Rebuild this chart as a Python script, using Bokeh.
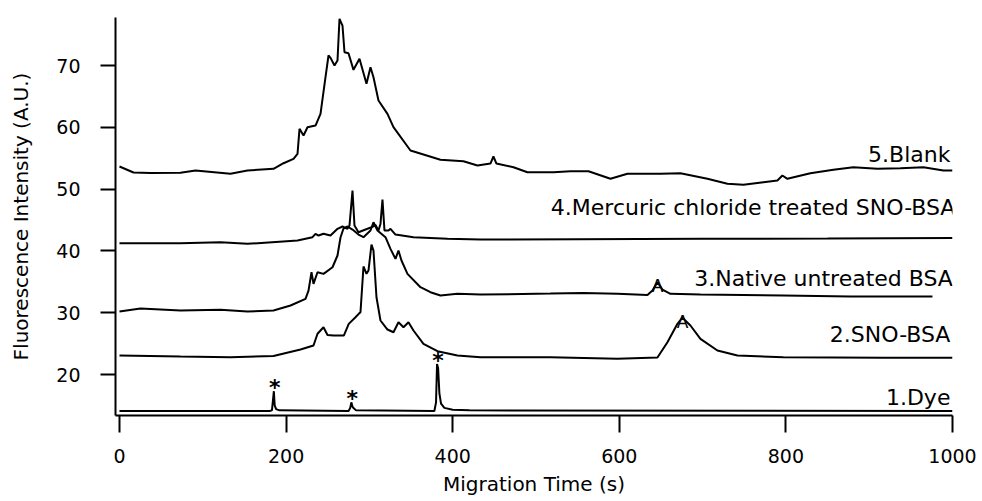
import numpy as np
from bokeh.plotting import figure
from bokeh.models import Range1d, FixedTicker, Label
from bokeh.embed import file_html
from bokeh.resources import INLINE
from bokeh.core.properties import value

# Electropherograms: migration time (s) and fluorescence intensity (A.U.)
dye_t = [0, 180, 183, 184.5, 185.3, 186.3, 188, 192, 275, 277, 278.3, 280, 284,
         378, 380, 381.2, 382.5, 384, 386, 390, 400, 420, 1000]
dye_i = [14.1, 14.1, 14.2, 16.2, 17.3, 15.0, 14.4, 14.2, 14.1, 14.6, 15.5, 14.7, 14.2,
         14.1, 15.5, 21.7, 21.0, 17.0, 15.3, 14.6, 14.3, 14.2, 14.1]

sno_t = [0, 73.2, 133.2, 184.9, 217.3, 232.9, 237.7, 244.9, 249.7, 256.9, 269.3, 275.2,
         283.3, 287.2, 289.3, 292.9, 296.5, 298.9, 302.5, 304.9, 308.5, 313.3, 321.7,
         328.9, 334.9, 340.9, 346.9, 352.9, 364.9, 381.7, 405.7, 433.3, 517.3, 597.8,
         645.8, 657.8, 669.8, 675.8, 685.4, 697.4, 717.8, 741.8, 797.0, 917.0, 1000]
sno_i = [23.07, 22.91, 22.80, 22.99, 24.05, 24.69, 26.59, 27.65, 26.39, 26.31, 26.31, 28.20,
         29.27, 29.82, 30.08, 37.48, 36.29, 36.83, 41.04, 40.06, 32.51, 28.74, 27.28,
         26.84, 28.46, 27.65, 28.46, 27.12, 24.97, 23.77, 23.07, 22.80, 22.80, 22.54,
         22.75, 25.23, 28.20, 29.20, 27.93, 25.78, 23.88, 23.07, 22.80, 22.70, 22.70]

native_t = [0, 25.2, 49.2, 73.2, 121.2, 153.6, 184.9, 205.3, 223.3, 226.9, 230.5, 232.9,
            237.7, 244.9, 255.7, 261.7, 265.3, 268.9, 273.7, 279.7, 286.9, 292.9, 301.3,
            304.9, 309.7, 319.3, 325.3, 331.3, 334.9, 338.5, 345.7, 361.3, 373.3, 385.3,
            405.7, 433.3, 517.3, 557.0, 597.8, 633.8, 639.8, 645.8, 651.8, 661.4, 697.4,
            797.0, 877.4, 975.9]
native_i = [30.19, 30.68, 30.52, 30.36, 30.47, 30.19, 30.36, 31.17, 32.25, 33.59, 36.55, 34.68,
            36.55, 36.29, 37.36, 39.26, 42.17, 43.62, 43.95, 43.46, 42.65, 42.22, 43.30,
            44.64, 43.30, 42.22, 40.34, 38.72, 40.06, 38.45, 36.29, 34.13, 33.32, 32.78,
            33.06, 32.94, 33.10, 33.20, 33.06, 32.86, 33.59, 34.95, 33.75, 33.06, 32.94,
            32.78, 32.62, 32.62]

hg_t = [0, 73.2, 121.2, 153.6, 213.7, 231.7, 235.3, 238.9, 244.9, 253.3, 261.7, 267.7,
        273.7, 276.1, 279.7, 282.1, 286.9, 297.7, 303.7, 307.3, 310.9, 313.3, 315.7,
        318.1, 322.9, 325.3, 331.3, 352.9, 393.7, 433.3, 550, 700, 850, 1000]
hg_i = [41.25, 41.25, 41.41, 41.15, 41.68, 42.22, 42.77, 42.49, 42.77, 42.49, 43.58, 43.95,
        43.58, 44.10, 49.77, 44.10, 43.03, 43.58, 43.90, 44.20, 43.30, 44.37, 48.30,
        43.30, 43.30, 43.58, 42.65, 42.22, 41.96, 41.84, 41.90, 41.95, 42.00, 42.10]

blank_t = [0, 16.8, 37.2, 73.2, 91.2, 133.2, 153.6, 184.9, 196.9, 208.9, 213.7, 216.1,
           220.9, 225.7, 235.3, 241.3, 247.3, 250.9, 253.5, 258.1, 261.7, 264.1, 267.7, 270.1,
           274.9, 280.9, 288.1, 296.5, 301.3, 304.9, 310.9, 321.7, 328.9, 349.3, 364.9,
           385.3, 412.9, 429.7, 445.3, 448.9, 452.5, 473.0, 489.7, 521.0, 541.4, 563.0,
           589.4, 609.8, 649.4, 673.4, 705.8, 729.8, 749.0, 773.0, 789.8, 795.8, 801.8,
           829.4, 857.0, 881.0, 909.8, 937.5, 965.1, 989.1, 1000]
blank_i = [53.66, 52.69, 52.60, 52.64, 53.01, 52.48, 53.01, 53.28, 54.19, 54.90, 55.71, 59.76,
           58.67, 60.02, 60.29, 62.18, 68.11, 71.62, 71.20, 70.00, 70.81, 77.56, 76.47, 72.15,
           71.99, 69.30, 71.08, 67.04, 69.72, 68.11, 64.34, 62.18, 60.02, 56.25, 55.60,
           54.74, 54.51, 53.82, 54.14, 55.28, 54.14, 53.54, 52.73, 52.73, 52.90, 52.90,
           51.67, 52.48, 52.48, 52.57, 51.67, 50.86, 50.70, 51.12, 51.39, 52.20, 51.67,
           52.57, 53.12, 53.54, 53.28, 53.38, 53.54, 53.01, 53.01]

trace_labels = ["1.Dye", "2.SNO-BSA", "3.Native untreated BSA",
                "4.Mercuric chloride treated SNO-BSA", "5.Blank"]
dye_marked_times = [185.3, 278.3, 381.2]      # peaks flagged with an asterisk
protein_peak_times = [675.8, 645.8]           # SNO-BSA and native BSA peaks marked "A"

x_ticks = [0, 200, 400, 600, 800, 1000]
y_ticks = [20, 30, 40, 50, 60, 70]

FONT = "DejaVu Sans"

p = figure(width=982, height=501, output_backend="svg", toolbar_location=None,
           x_range=Range1d(-4.8, 1000), y_range=Range1d(13.37, 77.77),
           min_border_left=115, min_border_right=30, min_border_top=17,
           min_border_bottom=86)
p.outline_line_color = None
p.xgrid.visible = False
p.ygrid.visible = False
p.background_fill_color = "white"
p.border_fill_color = "white"

for ax, ticks in ((p.xaxis[0], x_ticks), (p.yaxis[0], y_ticks)):
    ax.ticker = FixedTicker(ticks=ticks)
    ax.minor_tick_line_color = None
    ax.major_tick_in = 0
    ax.axis_line_width = 2
    ax.major_tick_line_width = 2
    ax.axis_line_color = "black"
    ax.major_tick_line_color = "black"
    ax.major_label_text_font = FONT
    ax.major_label_text_font_size = "19px"
    ax.major_label_text_color = "black"
    ax.axis_label_text_font = FONT
    ax.axis_label_text_font_size = "20px"
    ax.axis_label_text_font_style = "normal"
    ax.axis_label_text_color = "black"

p.xaxis.major_tick_out = 17
p.yaxis.major_tick_out = 15
p.xaxis.axis_label = "Migration Time (s)"
p.yaxis.axis_label = "Fluorescence Intensity (A.U.)"
p.xaxis.major_label_standoff = 16
p.xaxis.axis_label_standoff = 6
p.yaxis.major_label_standoff = 20
p.yaxis.axis_label_standoff = 20

series = [(dye_t, dye_i), (sno_t, sno_i), (native_t, native_i), (hg_t, hg_i), (blank_t, blank_i)]
for t, i in series:
    p.line(t, i, line_color="black", line_width=2)

# trace names, right-aligned at the end of each trace
label_pos = [(997.5, 14.98), (997.5, 25.23), (1000.5, 34.24), (1003.5, 45.73), (997.5, 54.30)]
for text, (lx, ly) in zip(trace_labels, label_pos):
    p.add_layout(Label(x=lx, y=ly, text=text, text_align="right",
                       text_baseline="alphabetic", y_offset=8, text_font=FONT,
                       text_font_size="22px", text_color="black"))

# asterisks above the dye peaks
star_y = [float(np.interp(t, dye_t, dye_i)) for t in dye_marked_times]
p.text(x=dye_marked_times, y=star_y, text=["*"] * len(dye_marked_times),
       text_align="center", text_baseline="alphabetic", y_offset=-4, x_offset=1,
       text_font=value(FONT), text_font_style="bold", text_font_size="22px",
       text_color="black")

# "A" markers on the late protein peaks
a_y = [float(np.interp(protein_peak_times[0], sno_t, sno_i)),
       float(np.interp(protein_peak_times[1], native_t, native_i))]
p.text(x=protein_peak_times, y=a_y, text=["A", "A"], text_align="center",
       text_baseline="alphabetic", y_offset=4, text_font=value(FONT),
       text_font_size="17px", text_color="black")

open("out.html", "w").write(file_html(p, INLINE))
